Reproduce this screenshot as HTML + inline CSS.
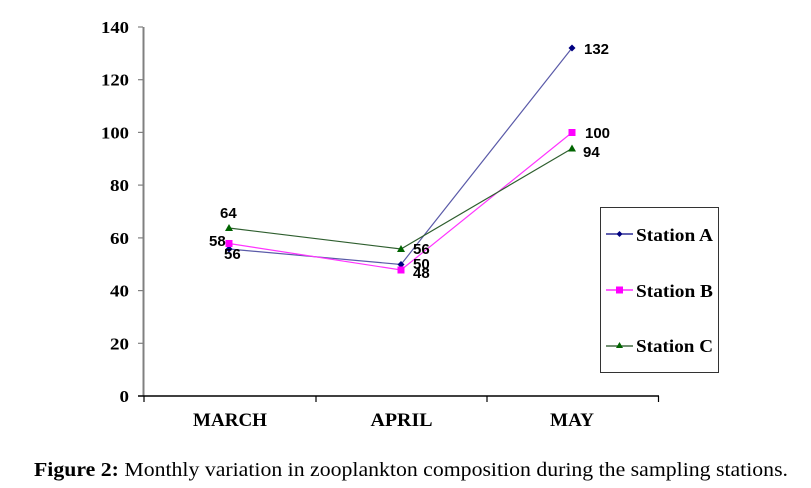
<!DOCTYPE html>
<html><head><meta charset="utf-8"><style>
html,body{margin:0;padding:0;background:#fff;}
svg{display:block;}
</style></head><body>
<svg width="811" height="488" viewBox="0 0 811 488" xmlns="http://www.w3.org/2000/svg">
<rect width="811" height="488" fill="#fff"/>
<!-- y axis -->
<line x1="143.5" y1="27" x2="143.5" y2="396" stroke="#808080" stroke-width="2"/>
<g stroke="#808080" stroke-width="1.2">
<line x1="138" y1="27" x2="143" y2="27"/>
<line x1="138" y1="79.7" x2="143" y2="79.7"/>
<line x1="138" y1="132.4" x2="143" y2="132.4"/>
<line x1="138" y1="185.1" x2="143" y2="185.1"/>
<line x1="138" y1="237.9" x2="143" y2="237.9"/>
<line x1="138" y1="290.6" x2="143" y2="290.6"/>
<line x1="138" y1="343.3" x2="143" y2="343.3"/>
</g>
<!-- x axis -->
<line x1="138" y1="396" x2="659" y2="396" stroke="#000" stroke-width="1.5"/>
<g stroke="#000" stroke-width="1.2">
<line x1="144" y1="396" x2="144" y2="402"/>
<line x1="316" y1="396" x2="316" y2="402"/>
<line x1="487" y1="396" x2="487" y2="402"/>
<line x1="658.5" y1="396" x2="658.5" y2="402"/>
</g>
<!-- y tick labels -->
<g font-family="Liberation Serif, serif" font-weight="bold" font-size="17" text-anchor="end" fill="#000">
<text x="129" y="33" textLength="28" lengthAdjust="spacingAndGlyphs">140</text>
<text x="129" y="85.7" textLength="28" lengthAdjust="spacingAndGlyphs">120</text>
<text x="129" y="138.4" textLength="28" lengthAdjust="spacingAndGlyphs">100</text>
<text x="129" y="191.1" textLength="19" lengthAdjust="spacingAndGlyphs">80</text>
<text x="129" y="243.9" textLength="19" lengthAdjust="spacingAndGlyphs">60</text>
<text x="129" y="296.6" textLength="19" lengthAdjust="spacingAndGlyphs">40</text>
<text x="129" y="349.3" textLength="19" lengthAdjust="spacingAndGlyphs">20</text>
<text x="129" y="402" textLength="9.5" lengthAdjust="spacingAndGlyphs">0</text>
</g>
<!-- x labels -->
<g font-family="Liberation Serif, serif" font-weight="bold" font-size="19" text-anchor="middle" fill="#000">
<text x="230" y="426" textLength="74" lengthAdjust="spacingAndGlyphs">MARCH</text>
<text x="401.5" y="426" textLength="62" lengthAdjust="spacingAndGlyphs">APRIL</text>
<text x="572" y="426" textLength="44" lengthAdjust="spacingAndGlyphs">MAY</text>
</g>
<!-- series -->
<polyline points="229,249 401,264.5 572,48" fill="none" stroke="#5a5aa8" stroke-width="1.2"/>
<polyline points="229,243.5 401,270 572,132.5" fill="none" stroke="#ff33ff" stroke-width="1.2"/>
<polyline points="229,228 401,249 572,148.5" fill="none" stroke="#2e5e2e" stroke-width="1.2"/>
<!-- markers A diamond -->
<g fill="#000080">
<polygon points="229,245.5 232.5,249 229,252.5 225.5,249"/>
<polygon points="401,261 404.5,264.5 401,268 397.5,264.5"/>
<polygon points="572,44.5 575.5,48 572,51.5 568.5,48"/>
</g>
<!-- markers B square -->
<g fill="#ff00ff">
<rect x="225.5" y="240" width="7" height="7"/>
<rect x="397.5" y="266.5" width="7" height="7"/>
<rect x="568.5" y="129" width="7" height="7"/>
</g>
<!-- markers C triangle -->
<g fill="#006400">
<polygon points="229,224 233,231 225,231"/>
<polygon points="401,245 405,252 397,252"/>
<polygon points="572,144.5 576,151.5 568,151.5"/>
</g>
<!-- data labels -->
<g font-family="Liberation Sans, sans-serif" font-weight="bold" font-size="15" fill="#000">
<text x="584" y="54">132</text>
<text x="585" y="138">100</text>
<text x="583" y="157">94</text>
<text x="220" y="218">64</text>
<text x="209" y="246">58</text>
<text x="224" y="259">56</text>
<text x="413" y="254">56</text>
<text x="413" y="269">50</text>
<text x="413" y="278">48</text>
</g>
<!-- legend -->
<rect x="600.5" y="207.5" width="118" height="165" fill="#fff" stroke="#333" stroke-width="1"/>
<line x1="606" y1="234" x2="633" y2="234" stroke="#000080" stroke-width="1.2"/>
<polygon points="619.5,231 622.5,234 619.5,237 616.5,234" fill="#000080"/>
<line x1="606" y1="290" x2="633" y2="290" stroke="#ff00ff" stroke-width="1.2"/>
<rect x="616" y="286.5" width="7" height="7" fill="#ff00ff"/>
<line x1="606" y1="346" x2="633" y2="346" stroke="#1e4e1e" stroke-width="1.2"/>
<polygon points="619.5,342 623,348 616,348" fill="#006400"/>
<g font-family="Liberation Serif, serif" font-weight="bold" font-size="18" fill="#000">
<text x="636" y="241" textLength="77" lengthAdjust="spacingAndGlyphs">Station A</text>
<text x="636" y="297" textLength="77" lengthAdjust="spacingAndGlyphs">Station B</text>
<text x="636" y="352" textLength="77" lengthAdjust="spacingAndGlyphs">Station C</text>
</g>
<!-- caption -->
<text x="34" y="476" font-family="Liberation Serif, serif" font-size="20" fill="#000" textLength="754" lengthAdjust="spacingAndGlyphs"><tspan font-weight="bold">Figure 2:</tspan> Monthly variation in zooplankton composition during the sampling stations.</text>
</svg>
</body></html>
